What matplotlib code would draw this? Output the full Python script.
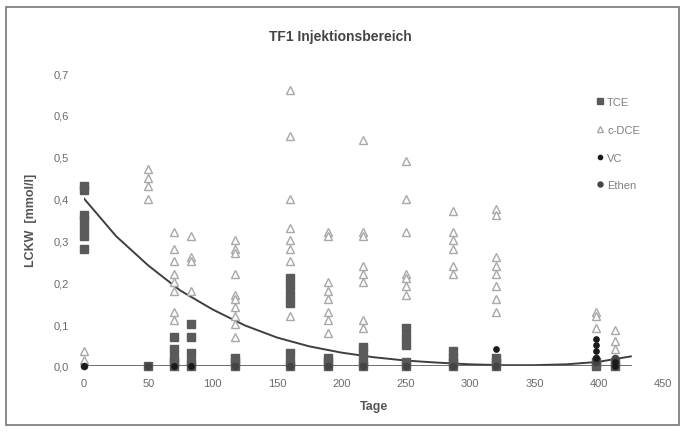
import numpy as np
import matplotlib
matplotlib.use('Agg')
import matplotlib.pyplot as plt
from matplotlib.patches import Rectangle
from matplotlib.ticker import FuncFormatter

plt.rcParams['font.family'] = ['Liberation Sans', 'DejaVu Sans']

tce_days = [0, 0, 0, 0, 0, 0, 0,
            50,
            70, 70, 70, 70, 70,
            83, 83, 83, 83, 83,
            117, 117, 117,
            160, 160, 160, 160, 160, 160, 160,
            190, 190, 190,
            217, 217, 217, 217,
            250, 250, 250, 250, 250,
            287, 287, 287, 287,
            320, 320, 320,
            398, 398,
            413, 413]
tce_vals = [0.43, 0.42, 0.36, 0.35, 0.33, 0.31, 0.28,
            0.0,
            0.07, 0.04, 0.02, 0.01, 0.0,
            0.10, 0.07, 0.03, 0.01, 0.0,
            0.02, 0.01, 0.0,
            0.21, 0.19, 0.17, 0.15, 0.03, 0.01, 0.0,
            0.02, 0.01, 0.0,
            0.045, 0.03, 0.01, 0.0,
            0.09, 0.07, 0.05, 0.01, 0.0,
            0.035, 0.02, 0.01, 0.0,
            0.02, 0.01, 0.0,
            0.01, 0.0,
            0.01, 0.0]

dce_days = [0, 0,
            50, 50, 50, 50,
            70, 70, 70, 70, 70, 70, 70, 70,
            83, 83, 83, 83,
            117, 117, 117, 117, 117, 117, 117, 117, 117, 117,
            160, 160, 160, 160, 160, 160, 160, 160,
            190, 190, 190, 190, 190, 190, 190, 190,
            217, 217, 217, 217, 217, 217, 217, 217,
            250, 250, 250, 250, 250, 250, 250,
            287, 287, 287, 287, 287, 287,
            320, 320, 320, 320, 320, 320, 320, 320,
            398, 398, 398,
            413, 413, 413]
dce_vals = [0.035, 0.015,
            0.47, 0.45, 0.43, 0.40,
            0.32, 0.28, 0.25, 0.22, 0.20, 0.18, 0.13, 0.11,
            0.31, 0.26, 0.25, 0.18,
            0.30, 0.28, 0.27, 0.22, 0.17, 0.16, 0.14, 0.12, 0.10, 0.07,
            0.66, 0.55, 0.40, 0.33, 0.30, 0.28, 0.25, 0.12,
            0.32, 0.31, 0.20, 0.18, 0.16, 0.13, 0.11, 0.08,
            0.54, 0.32, 0.31, 0.24, 0.22, 0.20, 0.11, 0.09,
            0.49, 0.40, 0.32, 0.22, 0.21, 0.19, 0.17,
            0.37, 0.32, 0.30, 0.28, 0.24, 0.22,
            0.375, 0.36, 0.26, 0.24, 0.22, 0.19, 0.16, 0.13,
            0.13, 0.12, 0.09,
            0.085, 0.06, 0.04]

vc_days = [0, 70, 83, 320, 398, 398, 398, 398, 413, 413]
vc_vals = [0.0, 0.0, 0.0, 0.04, 0.065, 0.05, 0.035, 0.02, 0.01, 0.0]

ethen_days = [0, 50, 70, 83, 117, 160, 190, 217, 250, 287, 320, 398, 398, 413, 413]
ethen_vals = [0.0, 0.0, 0.0, 0.0, 0.0, 0.0, 0.0, 0.0, 0.0, 0.0, 0.0, 0.02, 0.01, 0.02, 0.0]

# Trend lines
trend_days = [0, 25, 50, 75, 100, 125, 150, 175, 200, 225, 250, 275, 300, 325, 350, 375, 400, 425]
trend_vals = [0.40, 0.31, 0.24, 0.18, 0.135, 0.097, 0.068, 0.047, 0.032, 0.021, 0.013, 0.008,
              0.004, 0.002, 0.002, 0.004, 0.010, 0.023]
flat_days = [0, 425]
flat_vals = [0.0, 0.0]

x_ticks = [0, 50, 100, 150, 200, 250, 300, 350, 400, 450]
y_ticks = [0.0, 0.1, 0.2, 0.3, 0.4, 0.5, 0.6, 0.7]

fig = plt.figure(figsize=(6.83, 4.35), dpi=100)
ax = fig.add_axes([84 / 683, 1 - 367 / 435, (663 - 84) / 683, (367 - 74) / 435])

ax.plot(trend_days, trend_vals, color='#3f3f3f', lw=1.4, zorder=2)
ax.plot(flat_days, flat_vals, color='#555555', lw=1.2, zorder=2)

ax.plot(dce_days, dce_vals, ls='none', marker='^', ms=6.2, mfc='white', mec='#a8a8a8',
        mew=1.0, label='c-DCE', clip_on=False, zorder=3)
ax.plot(tce_days, tce_vals, ls='none', marker='s', ms=5.5, mfc='#5a5a5a', mec='#5a5a5a',
        label='TCE', clip_on=False, zorder=4)
ax.plot(ethen_days, ethen_vals, ls='none', marker='o', ms=4.5, mfc='#444444', mec='#444444',
        label='Ethen', clip_on=False, zorder=5)
ax.plot(vc_days, vc_vals, ls='none', marker='o', ms=3.8, mfc='#1a1a1a', mec='#1a1a1a',
        label='VC', clip_on=False, zorder=6)

ax.set_xlim(0, 450)
ax.set_ylim(0, 0.7)
ax.set_xticks(x_ticks)
ax.set_yticks(y_ticks)
ax.yaxis.set_major_formatter(FuncFormatter(lambda v, p: ('%.1f' % v).replace('.', ',')))
ax.tick_params(length=0, labelsize=8, labelcolor='#6a6a6a')
ax.tick_params(axis='x', pad=9)
ax.tick_params(axis='y', pad=11)
for s in ax.spines.values():
    s.set_visible(False)

ax.set_xlabel('Tage', fontsize=9, fontweight='bold', color='#555555', labelpad=8)
fig.text(31 / 683, 1 - 220 / 435, 'LCKW  [mmol/l]', rotation=90, fontsize=9,
         fontweight='bold', color='#555555', ha='center', va='center')
fig.text(340 / 683, 1 - 37 / 435, 'TF1 Injektionsbereich', fontsize=10, fontweight='bold',
         color='#444444', ha='center', va='center')

h, l = ax.get_legend_handles_labels()
order = [l.index(n) for n in ['TCE', 'c-DCE', 'VC', 'Ethen']]
leg = ax.legend([h[i] for i in order], [l[i] for i in order], loc='upper left',
                bbox_to_anchor=(587 / 683, 1 - 88 / 435), bbox_transform=fig.transFigure,
                frameon=False, fontsize=8, handlelength=0.6, handletextpad=0.3,
                labelspacing=1.6, markerscale=0.8)
for t in leg.get_texts():
    t.set_color('#808080')

# scanned frame around the chart
fig.patches.append(Rectangle((6 / 683, 1 - 426 / 435), 673 / 683, 418 / 435,
                             transform=fig.transFigure, fill=False, ec='#777777', lw=1.2))

fig.savefig('out.png', dpi=100)
